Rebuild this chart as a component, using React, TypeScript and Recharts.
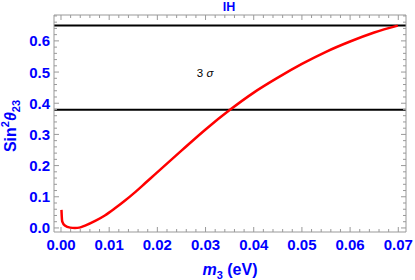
import { LineChart, Line, XAxis, YAxis, ReferenceLine, ReferenceDot } from 'recharts';

// m3 (eV) and sin^2 theta23
const m3Values = [0.0001, 0.00015, 0.00027, 0.0008, 0.0019, 0.0029, 0.0038, 0.005, 0.0071, 0.0091, 0.0112, 0.0133, 0.0154, 0.0175, 0.0195, 0.025, 0.03, 0.035, 0.04, 0.045, 0.05, 0.055, 0.06, 0.065, 0.0699];
const sin2Values = [0.058, 0.04, 0.02, 0.0075, 0.001, 0, 0.001, 0.0075, 0.0225, 0.04, 0.063, 0.088, 0.115, 0.144, 0.172, 0.248, 0.316, 0.378, 0.434, 0.482, 0.526, 0.565, 0.598, 0.627, 0.649];

// 3 sigma band edges
const sigmaBounds = [0.379, 0.649];
const sigmaLabelPos = { m3: 0.0299, sin2: 0.498 };

const xMajorTicks = [0, 0.01, 0.02, 0.03, 0.04, 0.05, 0.06, 0.07];
const yMajorTicks = [0, 0.1, 0.2, 0.3, 0.4, 0.5, 0.6];

const X_DOMAIN: [number, number] = [-0.00145, 0.0716];
const Y_DOMAIN: [number, number] = [-0.013, 0.683];

const FRAME = '#999999';
const BLUE = '#0000ff';
const FONT = '"Liberation Sans", Arial, sans-serif';

// majors split in 5 for the minor ticks
function withMinor(majors: number[], max: number) {
    const step = (majors[1] - majors[0]) / 5;
    const out: number[] = [];
    for (let i = 0; majors[0] + i * step <= max + 1e-9; i++) out.push(+(majors[0] + i * step).toFixed(4));
    return out;
}
const xTicks = withMinor(xMajorTicks, X_DOMAIN[1]);
const yTicks = withMinor(yMajorTicks, Y_DOMAIN[1]);

const isMajor = (v: number, step: number) => Math.abs(v / step - Math.round(v / step)) < 1e-6;

const curveData = m3Values.map((m, i) => ({ m3: m, sin2: sin2Values[i] }));

function BottomTick(props: any) {
    const { x, y, payload } = props;
    const major = isMajor(payload.value, 0.01);
    return (
        <g>
            <line x1={x} x2={x} y1={y} y2={y - (major ? 5 : 3)} stroke={FRAME} />
            {major && (
                <text x={x} y={y + 18} textAnchor="middle" fill={BLUE} fontSize={15} fontWeight="bold" fontFamily={FONT}>
                    {payload.value.toFixed(2)}
                </text>
            )}
        </g>
    );
}

function TopTick(props: any) {
    const { x, y, payload } = props;
    const major = isMajor(payload.value, 0.01);
    return <line x1={x} x2={x} y1={y} y2={y + (major ? 5 : 3)} stroke={FRAME} />;
}

function LeftTick(props: any) {
    const { x, y, payload } = props;
    const major = isMajor(payload.value, 0.1);
    return (
        <g>
            <line x1={x} x2={x + (major ? 5 : 3)} y1={y} y2={y} stroke={FRAME} />
            {major && (
                <text x={x - 4} y={y + 5.5} textAnchor="end" fill={BLUE} fontSize={15} fontWeight="bold" fontFamily={FONT}>
                    {payload.value.toFixed(1)}
                </text>
            )}
        </g>
    );
}

function RightTick(props: any) {
    const { x, y, payload } = props;
    const major = isMajor(payload.value, 0.1);
    return <line x1={x} x2={x - (major ? 5 : 3)} y1={y} y2={y} stroke={FRAME} />;
}

const xLabel = ({ viewBox }: any) => (
    <text x={viewBox.x + viewBox.width / 2} y={viewBox.y + 42.5} textAnchor="middle" fill={BLUE} fontSize={16} fontWeight="bold" fontFamily={FONT}>
        <tspan fontStyle="italic">m</tspan>
        <tspan fontSize={11} dy={4}>3</tspan>
        <tspan dy={-4}> (eV)</tspan>
    </text>
);

const yLabel = ({ viewBox }: any) => {
    const cx = viewBox.x + 16;
    const cy = viewBox.y + viewBox.height / 2 + 2.5;
    return (
        <text x={cx} y={cy} transform={`rotate(-90, ${cx}, ${cy})`} textAnchor="middle" fill={BLUE} fontSize={16} fontWeight="bold" fontFamily={FONT}>
            Sin
            <tspan fontSize={11} dy={-7}>2</tspan>
            <tspan fontStyle="italic" dy={7}>θ</tspan>
            <tspan fontSize={11} dy={4}>23</tspan>
        </text>
    );
};

const titleLabel = ({ viewBox }: any) => (
    <text x={viewBox.x + viewBox.width / 2 - 1} y={viewBox.y + viewBox.height - 4} textAnchor="middle" fill={BLUE} fontSize={12.5} fontWeight="bold" fontFamily={FONT}>
        IH
    </text>
);

const sigmaText = (p: any) => (
    <text x={p.cx} y={p.cy + 4} textAnchor="middle" fill="#000" fontSize={11.5} fontFamily={FONT}>
        3 <tspan fontStyle="italic">σ</tspan>
    </text>
);

export default function App() {
    return (
        <div style={{ position: 'absolute', left: 0, top: 0, width: 415, height: 280, background: '#fff' }}>
            <LineChart width={415} height={280} data={curveData} margin={{ top: 14, right: 8, bottom: 0, left: 0 }}>
                <XAxis
                    dataKey="m3"
                    type="number"
                    domain={X_DOMAIN}
                    allowDataOverflow
                    ticks={xTicks}
                    interval={0}
                    height={48}
                    tickSize={0}
                    tickMargin={0}
                    tickLine={false}
                    axisLine={{ stroke: FRAME }}
                    tick={<BottomTick />}
                    label={xLabel}
                />
                <XAxis
                    xAxisId="top"
                    orientation="top"
                    dataKey="m3"
                    type="number"
                    domain={X_DOMAIN}
                    allowDataOverflow
                    ticks={xTicks}
                    interval={0}
                    height={1}
                    tickSize={0}
                    tickMargin={0}
                    tickLine={false}
                    axisLine={{ stroke: FRAME }}
                    tick={<TopTick />}
                    label={titleLabel}
                />
                <YAxis
                    type="number"
                    domain={Y_DOMAIN}
                    allowDataOverflow
                    ticks={yTicks}
                    interval={0}
                    width={54}
                    tickSize={0}
                    tickMargin={0}
                    tickLine={false}
                    axisLine={{ stroke: FRAME }}
                    tick={<LeftTick />}
                    label={yLabel}
                />
                <YAxis
                    yAxisId="right"
                    orientation="right"
                    type="number"
                    domain={Y_DOMAIN}
                    allowDataOverflow
                    ticks={yTicks}
                    interval={0}
                    width={1}
                    tickSize={0}
                    tickMargin={0}
                    tickLine={false}
                    axisLine={{ stroke: FRAME }}
                    tick={<RightTick />}
                />
                {sigmaBounds.map((v) => (
                    <ReferenceLine key={v} y={v} stroke="#000" strokeWidth={2} />
                ))}
                <ReferenceDot x={sigmaLabelPos.m3} y={sigmaLabelPos.sin2} r={0} shape={sigmaText} />
                <Line
                    type="monotone"
                    dataKey="sin2"
                    stroke="#ff0000"
                    strokeWidth={2.5}
                    dot={false}
                    isAnimationActive={false}
                />
            </LineChart>
        </div>
    );
}
